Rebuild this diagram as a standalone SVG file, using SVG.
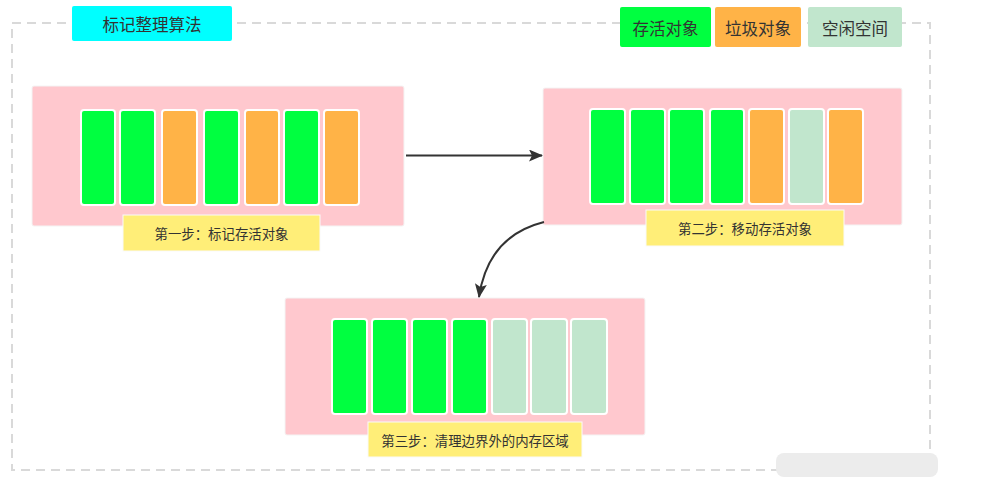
<svg xmlns="http://www.w3.org/2000/svg" width="981" height="486" viewBox="0 0 981 486">
<style>
text{font-family:"Noto Sans CJK SC","Noto Sans CJK JP",sans-serif;fill:#333;text-anchor:middle;dominant-baseline:central}
.panel{fill:#FFC8CE;stroke:#f4f4f4;stroke-width:1}
.bar{stroke:#fff;stroke-width:2}
.live{fill:#00FF40}
.garb{fill:#FFB347}
.free{fill:#C1E6CD}
.label{fill:#FFEE78;stroke:#fafafa;stroke-width:1}
.lab{font-size:13.4px}
.leg{font-size:16.5px}
.conn{fill:none;stroke:#333;stroke-width:2}
</style>
<defs>
<marker id="ah" markerWidth="14" markerHeight="12" refX="13" refY="6" orient="auto" markerUnits="userSpaceOnUse">
<path d="M0,0 L14,6 L0,12 L3,6 Z" fill="#333"/>
</marker>
</defs>
<rect width="981" height="486" fill="#fff"/>
<g id="frame">
<rect x="12" y="23" width="918" height="447" fill="none" stroke="#d9d9d9" stroke-width="2" stroke-dasharray="9,6"/>
</g>
<g id="title">
<rect x="72" y="6" width="160" height="35" rx="2" fill="#00FFFF"/>
<text x="152" y="24" class="leg">标记整理算法</text>
</g>
<g id="legend-live">
<rect x="620" y="7" width="91" height="40" rx="2" fill="#00FF40"/>
<text x="665.5" y="27.5" class="leg">存活对象</text>
</g>
<g id="legend-garbage">
<rect x="715" y="7" width="86" height="40" rx="2" fill="#FFB347"/>
<text x="758" y="27.5" class="leg">垃圾对象</text>
</g>
<g id="legend-free">
<rect x="808" y="7" width="94" height="40" rx="2" fill="#C1E6CD"/>
<text x="855" y="27.5" class="leg">空闲空间</text>
</g>
<g id="step1">
<rect class="panel" x="32" y="86" width="372" height="140" rx="2"/>
<rect class="bar live" x="81" y="110" width="34" height="95" rx="3"/>
<rect class="bar live" x="120" y="110" width="35" height="95" rx="3"/>
<rect class="bar garb" x="162" y="110" width="35" height="95" rx="3"/>
<rect class="bar live" x="204" y="110" width="35" height="95" rx="3"/>
<rect class="bar garb" x="245" y="110" width="34" height="95" rx="3"/>
<rect class="bar live" x="284" y="110" width="35" height="95" rx="3"/>
<rect class="bar garb" x="324" y="110" width="35" height="95" rx="3"/>
<rect class="label" x="123" y="215" width="197" height="36"/>
<text x="221.5" y="233" class="lab">第一步：标记存活对象</text>
</g>
<g id="step2">
<rect class="panel" x="543" y="88" width="359" height="137" rx="2"/>
<rect class="bar live" x="590" y="109" width="35" height="95" rx="3"/>
<rect class="bar live" x="630" y="109" width="35" height="95" rx="3"/>
<rect class="bar live" x="669" y="109" width="35" height="95" rx="3"/>
<rect class="bar live" x="710" y="109" width="34" height="95" rx="3"/>
<rect class="bar garb" x="749" y="109" width="35" height="95" rx="3"/>
<rect class="bar free" x="789" y="109" width="35" height="95" rx="3"/>
<rect class="bar garb" x="828" y="109" width="35" height="95" rx="3"/>
<rect class="label" x="646" y="210" width="198" height="36"/>
<text x="745" y="228" class="lab">第二步：移动存活对象</text>
</g>
<g id="step3">
<rect class="panel" x="285" y="298" width="360" height="137" rx="2"/>
<rect class="bar live" x="332" y="319" width="35" height="95" rx="3"/>
<rect class="bar live" x="372" y="319" width="35" height="95" rx="3"/>
<rect class="bar live" x="412" y="319" width="35" height="95" rx="3"/>
<rect class="bar live" x="452" y="319" width="35" height="95" rx="3"/>
<rect class="bar free" x="492" y="319" width="35" height="95" rx="3"/>
<rect class="bar free" x="531" y="319" width="36" height="95" rx="3"/>
<rect class="bar free" x="571" y="319" width="36" height="95" rx="3"/>
<rect class="label" x="368" y="422" width="214" height="35"/>
<text x="475" y="439.5" class="lab">第三步：清理边界外的内存区域</text>
</g>
<g id="connectors">
<path class="conn" d="M406,155.5 L542,155.5" marker-end="url(#ah)"/>
<path class="conn" d="M544,222 Q488,236 479,297" marker-end="url(#ah)"/>
</g>
<rect x="776" y="453" width="162" height="24" rx="8" fill="#ececec"/>
</svg>
